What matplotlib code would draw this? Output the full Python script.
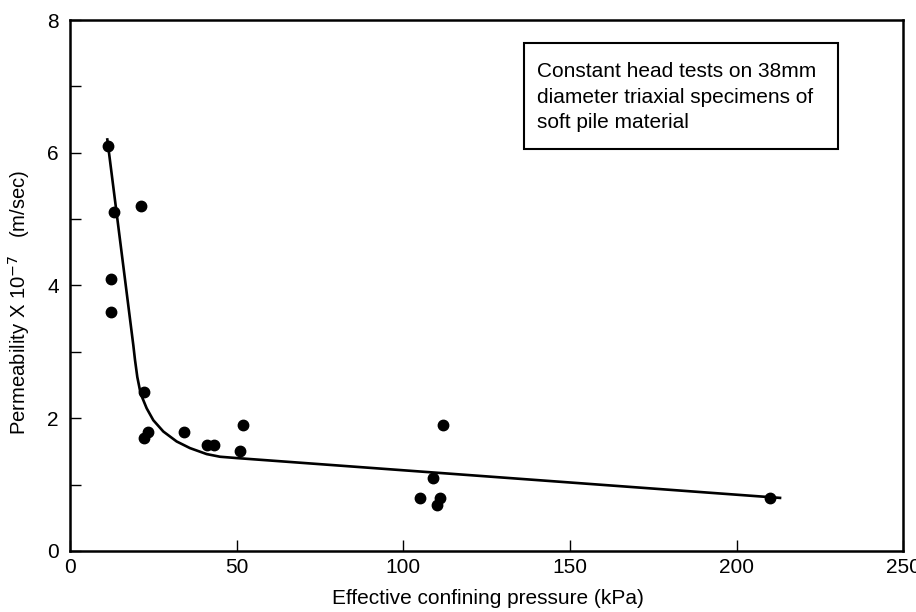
import matplotlib
matplotlib.use('Agg')
import matplotlib.pyplot as plt
from matplotlib.patches import Rectangle
from matplotlib.ticker import MultipleLocator

plt.rcParams['font.family'] = ['Liberation Sans', 'DejaVu Sans']

# measured permeability against effective confining pressure
pressure = [11.3, 13.3, 21.2, 12.3, 12.3, 22.3, 23.3, 22.3, 34.2, 41.0, 43.2,
            52.0, 51.0, 112.0, 109.0, 105.0, 111.0, 110.0, 210.0]
permeability = [6.1, 5.1, 5.2, 4.1, 3.6, 2.4, 1.8, 1.7, 1.8, 1.6, 1.6,
                1.9, 1.5, 1.9, 1.1, 0.8, 0.8, 0.7, 0.8]

# hand fitted trend line
trend_x = [11.2, 19.0, 19.5, 20.2, 21.2, 23.0, 25.0, 28.0, 32.0, 36.0,
           41.0, 45.0, 50.0, 213.0]
trend_y = [6.2, 3.1, 2.88, 2.62, 2.37, 2.15, 1.97, 1.80, 1.65, 1.55,
           1.46, 1.42, 1.40, 0.8]

note = "Constant head tests on 38mm\ndiameter triaxial specimens of\nsoft pile material"

fig = plt.figure(figsize=(9.16, 6.12), dpi=100)
ax = fig.add_axes([0.0764, 0.0997, 0.9098, 0.8676])

ax.plot(trend_x, trend_y, color='black', lw=1.9, zorder=2)
ax.plot(pressure, permeability, 'o', color='black', ms=7.5, zorder=3)

ax.set_xlim(0, 250)
ax.set_ylim(0, 8)
ax.xaxis.set_major_locator(MultipleLocator(50))
ax.yaxis.set_major_locator(MultipleLocator(2))
ax.yaxis.set_minor_locator(MultipleLocator(1))
ax.tick_params(which='both', direction='in', length=8, width=1.0,
               labelsize=15, top=False, right=False)
ax.tick_params(axis='x', pad=5)
ax.tick_params(axis='y', which='both', pad=8)
for s in ax.spines.values():
    s.set_linewidth(1.8)

ax.set_xlabel('Effective confining pressure (kPa)', fontsize=15, va='top')
ax.xaxis.set_label_coords(0.502, -0.072)
ax.set_ylabel('Permeability X 10$^{-7}$   (m/sec)', fontsize=14.6, va='center')
ax.yaxis.set_label_coords(-0.0612, 0.469)

# note box in the upper right
ax.add_patch(Rectangle((0.545, 0.757), 0.3766, 0.2, transform=ax.transAxes,
                       facecolor='white', edgecolor='black', lw=1.5, zorder=4))
ax.text(0.560, 0.921, note, transform=ax.transAxes, fontsize=15,
        va='top', ha='left', linespacing=1.45, zorder=5)

fig.savefig('out.png', dpi=100)
